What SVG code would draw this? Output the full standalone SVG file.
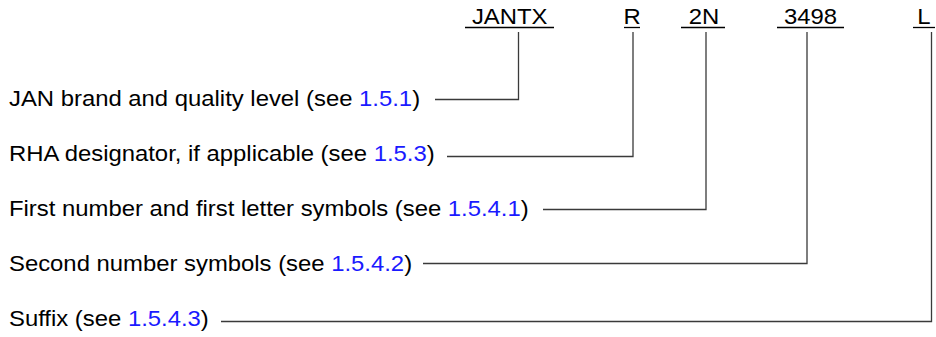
<svg xmlns="http://www.w3.org/2000/svg" width="936" height="337" viewBox="0 0 936 337">
<style>
text{font-family:"Liberation Sans",Arial,Helvetica,sans-serif;font-size:21.5px;fill:#000}
.ref{fill:#1a1aff}
.ul{stroke:#000;stroke-width:1.3}
.conn{fill:none;stroke:#3a3a3a;stroke-width:1.3}
</style>
<rect width="936" height="337" fill="#fff"/>
<g id="code-jantx"><text text-anchor="middle" transform="translate(509.7,24.3) scale(1.11,1)">JANTX</text><line class="ul" x1="465" y1="27.5" x2="554" y2="27.5"/></g>
<g id="code-r"><text text-anchor="middle" transform="translate(632,24.3) scale(1.11,1)">R</text><line class="ul" x1="624" y1="27.5" x2="640" y2="27.5"/></g>
<g id="code-2n"><text text-anchor="middle" transform="translate(704,24.3) scale(1.11,1)">2N</text><line class="ul" x1="681" y1="27.5" x2="725" y2="27.5"/></g>
<g id="code-3498"><text text-anchor="middle" transform="translate(810.5,24.3) scale(1.11,1)">3498</text><line class="ul" x1="777" y1="27.5" x2="844" y2="27.5"/></g>
<g id="code-l"><text text-anchor="middle" transform="translate(924,24.3) scale(1.11,1)">L</text><line class="ul" x1="913" y1="27.5" x2="935" y2="27.5"/></g>
<g id="label-jan"><text transform="translate(9,105.7) scale(1.11,1)">JAN brand and quality level (see <tspan class="ref">1.5.1</tspan>)</text></g>
<g id="label-rha"><text transform="translate(9,160.7) scale(1.11,1)">RHA designator, if applicable (see <tspan class="ref">1.5.3</tspan>)</text></g>
<g id="label-first"><text transform="translate(9,215.7) scale(1.11,1)">First number and first letter symbols (see <tspan class="ref">1.5.4.1</tspan>)</text></g>
<g id="label-second"><text transform="translate(9,270.7) scale(1.11,1)">Second number symbols (see <tspan class="ref">1.5.4.2</tspan>)</text></g>
<g id="label-suffix"><text transform="translate(9,325.7) scale(1.11,1)">Suffix (see <tspan class="ref">1.5.4.3</tspan>)</text></g>
<g id="connectors">
<polyline class="conn" points="435,99.5 518.5,99.5 518.5,32"/>
<polyline class="conn" points="447,156.5 633,156.5 633,32"/>
<polyline class="conn" points="543,209.5 706,209.5 706,32"/>
<polyline class="conn" points="423,263.5 807,263.5 807,32"/>
<polyline class="conn" points="221,321.5 931.5,321.5 931.5,32"/>
</g>
</svg>
